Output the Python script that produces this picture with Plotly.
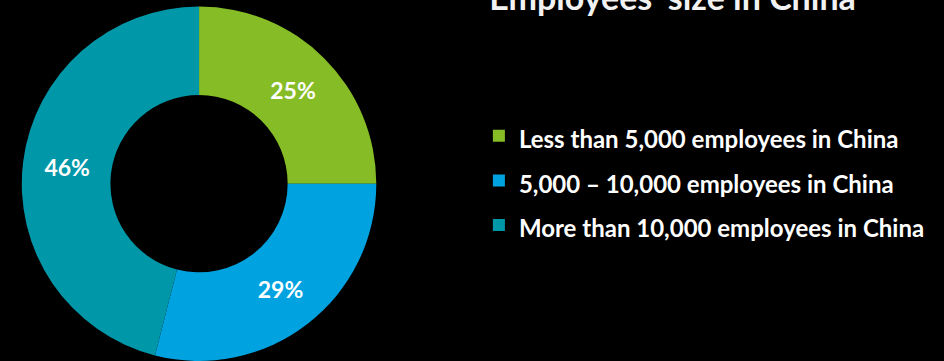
import plotly.graph_objects as go

# Share of companies by headcount in China
categories = [
    "Less than 5,000 employees in China",
    "5,000 \u2013 10,000 employees in China",
    "More than 10,000 employees in China",
]
shares = [25, 29, 46]
colors = ["#86BC25", "#00A3E0", "#0097A9"]

FONT = "Lato"
legend_labels = [f'<span style="font-size:24px">{c}</span>' for c in categories]

fig = go.Figure(
    go.Pie(
        labels=legend_labels,
        values=shares,
        hole=0.5,
        sort=False,
        direction="clockwise",
        rotation=0,
        marker=dict(colors=colors, line=dict(width=0)),
        texttemplate="%{value}%",
        textposition="inside",
        insidetextorientation="horizontal",
        textfont=dict(family=FONT, size=23, color="white", weight="bold"),
        domain=dict(x=[0.0228, 0.3989], y=[0.0, 0.982]),
        showlegend=True,
    )
)

fig.update_layout(
    width=944,
    height=361,
    margin=dict(l=0, r=0, t=0, b=0),
    paper_bgcolor="black",
    plot_bgcolor="black",
    title=dict(
        text="Employees' size in China",
        font=dict(family=FONT, size=34, color="#F2F2F2", weight="bold"),
        x=0.7125,
        xanchor="center",
        y=0.972,
        yanchor="bottom",
    ),
    legend=dict(
        x=0.5073,
        xanchor="left",
        y=0.5,
        yanchor="middle",
        font=dict(family=FONT, size=32, color="white", weight="bold"),
        bgcolor="rgba(0,0,0,0)",
        itemclick=False,
    ),
)

fig.write_html("out.html")
